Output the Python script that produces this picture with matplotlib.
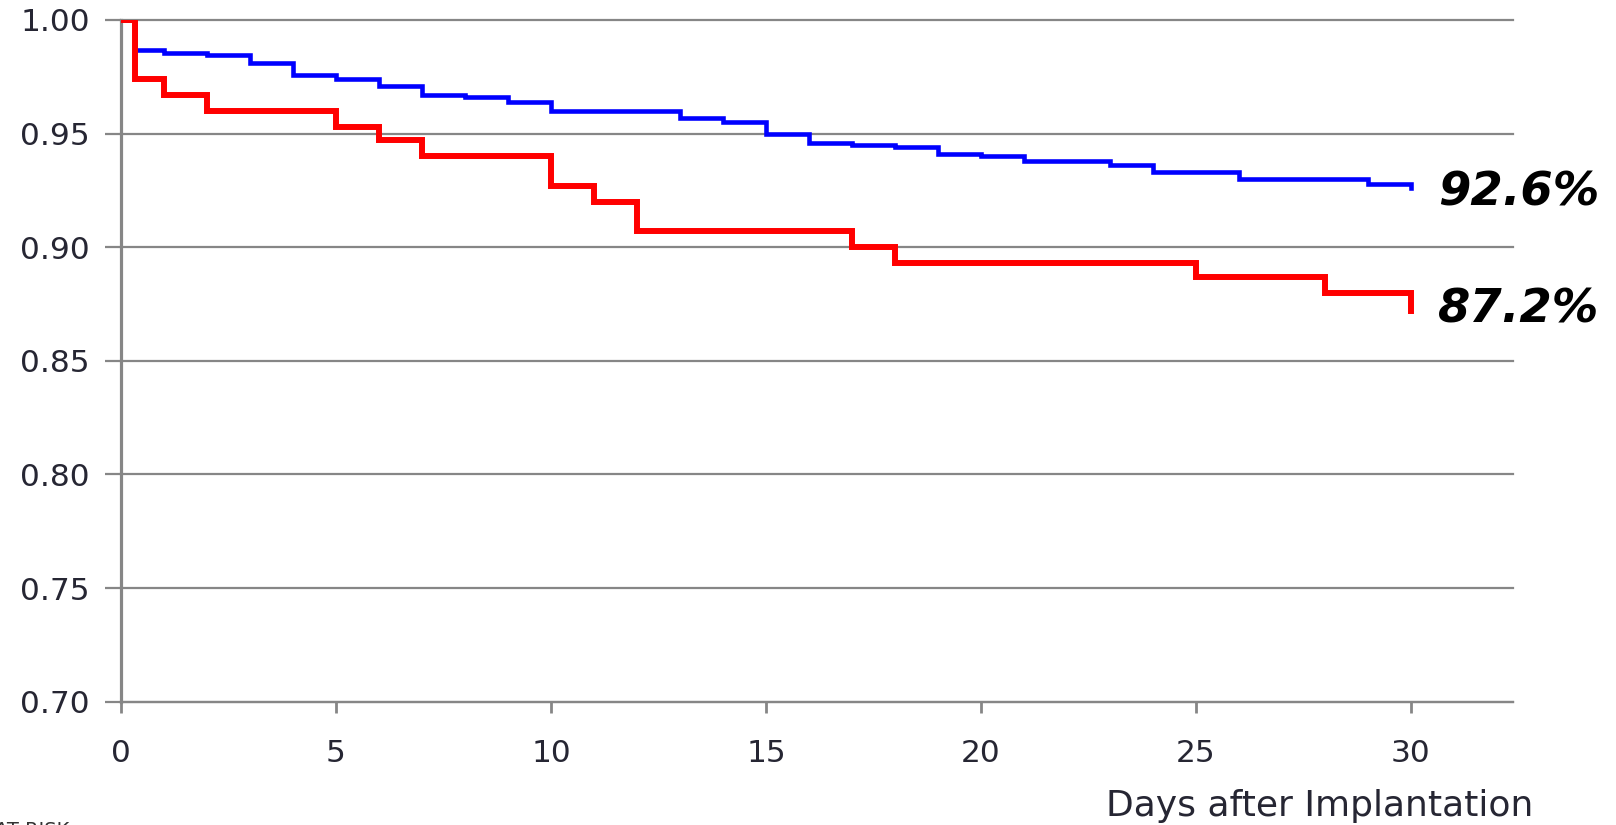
import matplotlib
matplotlib.use("Agg")
import matplotlib.pyplot as plt

# Kaplan-Meier style survival estimates (event day, survival after event)
red_days = [0.33, 1, 2, 5, 6, 7, 10, 11, 12, 17, 18, 25, 28, 30]
red_surv = [0.974, 0.967, 0.960, 0.953, 0.947, 0.940, 0.927, 0.920, 0.907,
            0.900, 0.893, 0.887, 0.880, 0.872]

blue_days = [0.33, 1, 2, 3, 4, 5, 6, 7, 8, 9, 10, 13, 14, 15, 16, 17, 18,
             19, 20, 21, 23, 24, 26, 29, 30]
blue_surv = [0.987, 0.9855, 0.9845, 0.981, 0.976, 0.974, 0.971, 0.967, 0.966,
             0.964, 0.960, 0.957, 0.955, 0.950, 0.946, 0.945, 0.944, 0.941,
             0.940, 0.938, 0.936, 0.933, 0.930, 0.928, 0.926]

x_ticks = [0, 5, 10, 15, 20, 25, 30]
y_ticks = [0.70, 0.75, 0.80, 0.85, 0.90, 0.95, 1.00]
x_label = "Days after Implantation"

GRID = "#868686"
TXT = "#262633"

fig = plt.figure(figsize=(16.16, 8.25), dpi=100)
ax = fig.add_axes([121 / 1616, 1 - 701.7 / 825, (1513.3 - 121) / 1616,
                   (701.7 - 20) / 825])

ax.set_xlim(0, 32.38)
ax.set_ylim(0.70, 1.00)

# Survival curves: start at 1.0 on day 0, step down after each event
ax.plot([0] + blue_days, [1.0] + blue_surv, drawstyle="steps-post",
        color="#0000FF", lw=3.3, solid_joinstyle="miter", zorder=3)
ax.plot([0] + red_days, [1.0] + red_surv, drawstyle="steps-post",
        color="#FF0000", lw=4.3, solid_joinstyle="miter", zorder=4)

# End-of-follow-up labels
ax.annotate(f"{blue_surv[-1] * 100:.1f}%", xy=(blue_days[-1], blue_surv[-1]),
            xytext=(27 * 0.72, -17.7 * 0.72), textcoords="offset points",
            ha="left", va="baseline", fontsize=33.5, fontweight="bold",
            fontstyle="italic", color="black", annotation_clip=False)
ax.annotate(f"{red_surv[-1] * 100:.1f}%", xy=(red_days[-1], red_surv[-1]),
            xytext=(27 * 0.72, -12 * 0.72), textcoords="offset points",
            ha="left", va="baseline", fontsize=33.5, fontweight="bold",
            fontstyle="italic", color="black", annotation_clip=False)

# Axes styling
ax.set_xticks(x_ticks)
ax.set_yticks(y_ticks)
ax.set_yticklabels([f"{v:.2f}" for v in y_ticks])
ax.grid(axis="y", color=GRID, lw=1.6)
for gl in ax.get_ygridlines():
    gl.set_clip_on(False)
ax.set_axisbelow(True)

for side in ("top", "right"):
    ax.spines[side].set_visible(False)
ax.spines["left"].set_color(GRID)
ax.spines["left"].set_linewidth(2.3)
ax.spines["bottom"].set_color(GRID)
ax.spines["bottom"].set_linewidth(1.6)

ax.tick_params(axis="y", length=11.5, width=1.6, color=GRID, pad=11,
               labelsize=22.5, labelcolor=TXT)
ax.tick_params(axis="x", length=8, width=2.0, color=GRID, pad=19,
               labelsize=22.5, labelcolor=TXT)

fig.text(1319.5 / 1616, 1 - 806 / 825, x_label, ha="center", va="center",
         fontsize=26, color=TXT)
fig.text(-0.003, 4 / 825, "AT RISK", ha="left", va="top", fontsize=14,
         color="#333333")

fig.savefig("out.png", dpi=100, facecolor="white")
